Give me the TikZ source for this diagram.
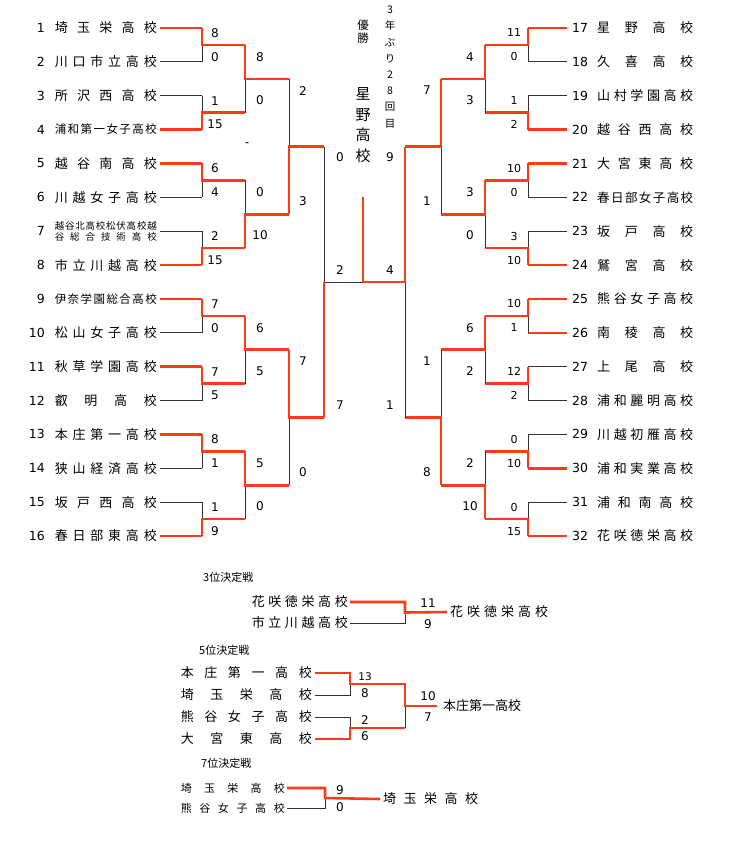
\documentclass[tikz,border=0pt]{standalone}
\usepackage{fontspec}
\setmainfont{DejaVu Sans}
\newfontfamily\cjk{Noto Sans CJK JP}
\definecolor{rdc}{HTML}{FF3A1A}
\def\sprA#1{#1\sprB}
\def\sprB#1{\ifx#1\relax\else\hfill#1\expandafter\sprB\fi}
\newcommand\spr[2]{\makebox[#1]{\expandafter\sprA#2\relax}}
\newcommand\mt[5]{%
 \pgfmathsetmacro\ym{(#2+#3)/2}%
 \ifnum#4=0
  \draw[bk] (#1,#3) -- (#1,\ym);
  \draw[rd] (#1,#2) -- (#1,\ym) -- (#5,\ym);
 \else
  \draw[bk] (#1,#2) -- (#1,\ym);
  \draw[rd] (#1,#3) -- (#1,\ym) -- (#5,\ym);
 \fi}
\newcommand\YY[1]{28+(#1-1)*33.87}
\begin{document}
\begin{tikzpicture}[x=1pt,y=-1pt,
  rd/.style={draw=rdc,line width=2.6pt,line join=miter},
  bk/.style={draw=black!80,line width=0.8pt},
  sc/.style={font=\fontsize{12}{12}\selectfont,inner sep=0pt},
  nm/.style={font=\cjk\fontsize{13}{13}\selectfont,inner sep=0pt},
  nms/.style={font=\cjk\fontsize{11.5}{11.5}\selectfont,inner sep=0pt},
  num/.style={font=\fontsize{12.5}{12.5}\selectfont,inner sep=0pt}]
\useasboundingbox (0,0) rectangle (736,845);
% team lines
\foreach \i/\c in {1/rd,2/bk,3/bk,4/rd,5/rd,6/bk,7/bk,8/rd,9/rd,10/bk,11/rd,12/bk,13/rd,14/bk,15/bk,16/rd}{
  \draw[\c] (160,{\YY{\i}}) -- (202,{\YY{\i}});}
\foreach \i/\c in {1/rd,2/bk,3/bk,4/rd,5/rd,6/bk,7/bk,8/rd,9/rd,10/rd,11/bk,12/bk,13/bk,14/rd,15/bk,16/rd}{
  \draw[\c] (567,{\YY{\i}}) -- (528,{\YY{\i}});}
% left R1
\foreach \k/\w in {1/0,2/1,3/0,4/1,5/0,6/0,7/0,8/1}{
  \pgfmathsetmacro\ya{\YY{2*\k-1}}\pgfmathsetmacro\yb{\YY{2*\k}}
  \mt{202}{\ya}{\yb}{\w}{245}}
% right R1
\foreach \k/\w in {1/0,2/1,3/0,4/1,5/0,6/0,7/1,8/1}{
  \pgfmathsetmacro\ya{\YY{2*\k-1}}\pgfmathsetmacro\yb{\YY{2*\k}}
  \mt{528}{\ya}{\yb}{\w}{485}}
% R2
\foreach \k/\w in {1/0,2/1,3/0,4/0}{
  \pgfmathsetmacro\ya{(\YY{4*\k-3}+\YY{4*\k-2})/2}\pgfmathsetmacro\yb{(\YY{4*\k-1}+\YY{4*\k})/2}
  \mt{245}{\ya}{\yb}{\w}{289}}
\foreach \k/\w in {1/0,2/0,3/0,4/1}{
  \pgfmathsetmacro\ya{(\YY{4*\k-3}+\YY{4*\k-2})/2}\pgfmathsetmacro\yb{(\YY{4*\k-1}+\YY{4*\k})/2}
  \mt{485}{\ya}{\yb}{\w}{441}}
% R3
\mt{289}{78.8}{214.3}{1}{324}
\mt{289}{349.8}{485.2}{0}{324}
\mt{441}{78.8}{214.3}{0}{405}
\mt{441}{349.8}{485.2}{1}{405}
% semis and final
\draw[bk] (324,146.6) -- (324,282) -- (363,282);
\draw[rd] (324,417.5) -- (324,282);
\draw[bk] (405,282) -- (405,417.5);
\draw[rd] (405,146.6) -- (405,282) -- (363,282) -- (363,197);
% left names
\foreach \i/\n in {1/埼玉栄高校,2/川口市立高校,3/所沢西高校,5/越谷南高校,6/川越女子高校,8/市立川越高校,10/松山女子高校,11/秋草学園高校,12/叡明高校,13/本庄第一高校,14/狭山経済高校,15/坂戸西高校,16/春日部東高校}{
  \node[nm,anchor=east] (L\i) at (157,{\YY{\i}}) {\spr{102pt}{\n}};}
\foreach \i/\n in {4/浦和第一女子高校,9/伊奈学園総合高校}{
  \node[nms,anchor=east] (L\i) at (157,{\YY{\i}}) {\spr{102pt}{\n}};}
\node[font=\cjk\fontsize{9.5}{9.5}\selectfont,inner sep=0pt,anchor=east,align=left] (L7) at (157,{\YY{7}}) {\spr{102pt}{越谷北高校松伏高校越}\\[1pt]\spr{102pt}{谷総合技術高校}};
\foreach \i in {1,...,16}{\node[num,anchor=east] at (45,{\YY{\i}}) {\i};}
% right names
\foreach \i/\n in {17/星野高校,18/久喜高校,19/山村学園高校,20/越谷西高校,21/大宮東高校,23/坂戸高校,24/鷲宮高校,25/熊谷女子高校,26/南稜高校,27/上尾高校,28/浦和麗明高校,29/川越初雁高校,30/浦和実業高校,31/浦和南高校,32/花咲徳栄高校}{
  \node[nm,anchor=west] (R\i) at (597,{\YY{\i-16}}) {\spr{96pt}{\n}};}
\node[nm,font=\cjk\fontsize{12.5}{12.5}\selectfont,anchor=west] (R22) at (597,{\YY{6}}) {\spr{96pt}{春日部女子高校}};
\foreach \i in {17,...,32}{\node[num,anchor=west] at (572,{\YY{\i-16}}) {\i};}
% scores left R1
\foreach \k/\a/\b in {1/8/0,2/1/15,3/6/4,4/2/15,5/7/0,6/7/5,7/8/1,8/1/9}{
  \pgfmathsetmacro\m{(\YY{2*\k-1}+\YY{2*\k})/2}
  \node[sc] at (215,\m-12) {\a}; \node[sc] at (215,\m+12) {\b};}
\foreach \k/\a/\b in {1/11/0,2/1/2,3/10/0,4/3/10,5/10/1,6/12/2,7/0/10,8/0/15}{
  \pgfmathsetmacro\m{(\YY{2*\k-1}+\YY{2*\k})/2}
  \node[sc,font=\fontsize{11}{11}\selectfont] at (514,\m-12) {\a}; \node[sc,font=\fontsize{11}{11}\selectfont] at (514,\m+12) {\b};}
\foreach \m/\a/\b in {78.8/8/0,214.3/0/10,349.8/6/5,485.2/5/0}{
  \node[sc] at (260,\m-22) {\a}; \node[sc] at (260,\m+21) {\b};}
\foreach \m/\a/\b in {78.8/4/3,214.3/3/0,349.8/6/2,485.2/2/10}{
  \node[sc] at (470,\m-22) {\a}; \node[sc] at (470,\m+21) {\b};}
\foreach \m/\a/\b in {146.6/2/3,417.5/7/0}{
  \node[sc] at (303,\m-56) {\a}; \node[sc] at (303,\m+55) {\b};}
\foreach \m/\a/\b in {146.6/7/1,417.5/1/8}{
  \node[sc] at (427,\m-56) {\a}; \node[sc] at (427,\m+55) {\b};}
\node[sc] at (340,157) {0}; \node[sc] at (340,405) {7};
\node[sc] at (390,157) {9}; \node[sc] at (390,405) {1};
\node[sc] at (340,270) {2}; \node[sc] at (390,270) {4};
\node[sc] at (247,145) {-};
% center titles
\node[font=\cjk\fontsize{11.5}{13}\selectfont,align=center,inner sep=0pt] (yu) at (363,32) {優\\勝};
\node[font=\cjk\fontsize{15}{20.5}\selectfont,align=center,inner sep=0pt] (hn) at (363,125) {星\\野\\高\\校};
\node[font=\cjk\fontsize{10.5}{16.2}\selectfont,align=center,inner sep=0pt] (nb) at (390,67) {3\\年\\ぶ\\り\\2\\8\\回\\目};
% 3rd place
\node[font=\cjk\fontsize{11}{11}\selectfont,anchor=west,inner sep=0pt] at (203,577) {3位決定戦};
\node[nm,anchor=east] (a1) at (348,602) {\spr{96pt}{花咲徳栄高校}};
\node[nm,anchor=east] (a2) at (348,623) {\spr{96pt}{市立川越高校}};
\node[nm,anchor=west] (aw) at (450,612) {\spr{98pt}{花咲徳栄高校}};
\draw[bk] (a2.east) ++(2,0) -- (405,623) -- (405,612.5);
\draw[rd] ([xshift=2pt]a1.east) -- (405,602) -- (405,612.5) -- ([xshift=-3pt]aw.west);
\node[sc] at (428,603) {11}; \node[sc] at (428,624) {9};
% 5th place
\node[font=\cjk\fontsize{11}{11}\selectfont,anchor=west,inner sep=0pt] at (199,650) {5位決定戦};
\node[nm,anchor=east] (b1) at (312,673) {\spr{131pt}{本庄第一高校}};
\node[nm,anchor=east] (b2) at (312,695) {\spr{131pt}{埼玉栄高校}};
\node[nm,anchor=east] (b3) at (312,717) {\spr{131pt}{熊谷女子高校}};
\node[nm,anchor=east] (b4) at (312,739) {\spr{131pt}{大宮東高校}};
\node[nm,anchor=west] (bw) at (443,706) {本庄第一高校};
\draw[bk] ([xshift=3pt]b2.east) -- (350,695) -- (350,684);
\draw[bk] ([xshift=3pt]b3.east) -- (350,717) -- (350,728);
\draw[bk] (405,728) -- (405,706);
\draw[rd] ([xshift=3pt]b1.east) -- (350,673) -- (350,684) -- (405,684) -- (405,706) -- ([xshift=-6pt]bw.west);
\draw[rd] ([xshift=3pt]b4.east) -- (350,739) -- (350,728) -- (405,728);
\node[sc,font=\fontsize{10.5}{10.5}\selectfont] at (365,677) {13}; \node[sc] at (365,693) {8};
\node[sc] at (365,720) {2}; \node[sc] at (365,736) {6};
\node[sc] at (428,696) {10}; \node[sc] at (428,717) {7};
% 7th place
\node[font=\cjk\fontsize{11}{11}\selectfont,anchor=west,inner sep=0pt] at (201,763) {7位決定戦};
\node[nms,font=\cjk\fontsize{11}{11}\selectfont,anchor=east] (c1) at (285,788) {\spr{104pt}{埼玉栄高校}};
\node[nms,font=\cjk\fontsize{11}{11}\selectfont,anchor=east] (c2) at (285,808) {\spr{104pt}{熊谷女子高校}};
\node[nm,anchor=west] (cw) at (383,799) {\spr{95pt}{埼玉栄高校}};
\draw[bk] ([xshift=2pt]c2.east) -- (325,808) -- (325,798);
\draw[rd] ([xshift=2pt]c1.east) -- (325,788) -- (325,798) -- ([xshift=-3pt]cw.west);
\node[sc] at (340,790) {9}; \node[sc] at (340,807) {0};
\end{tikzpicture}
\end{document}
